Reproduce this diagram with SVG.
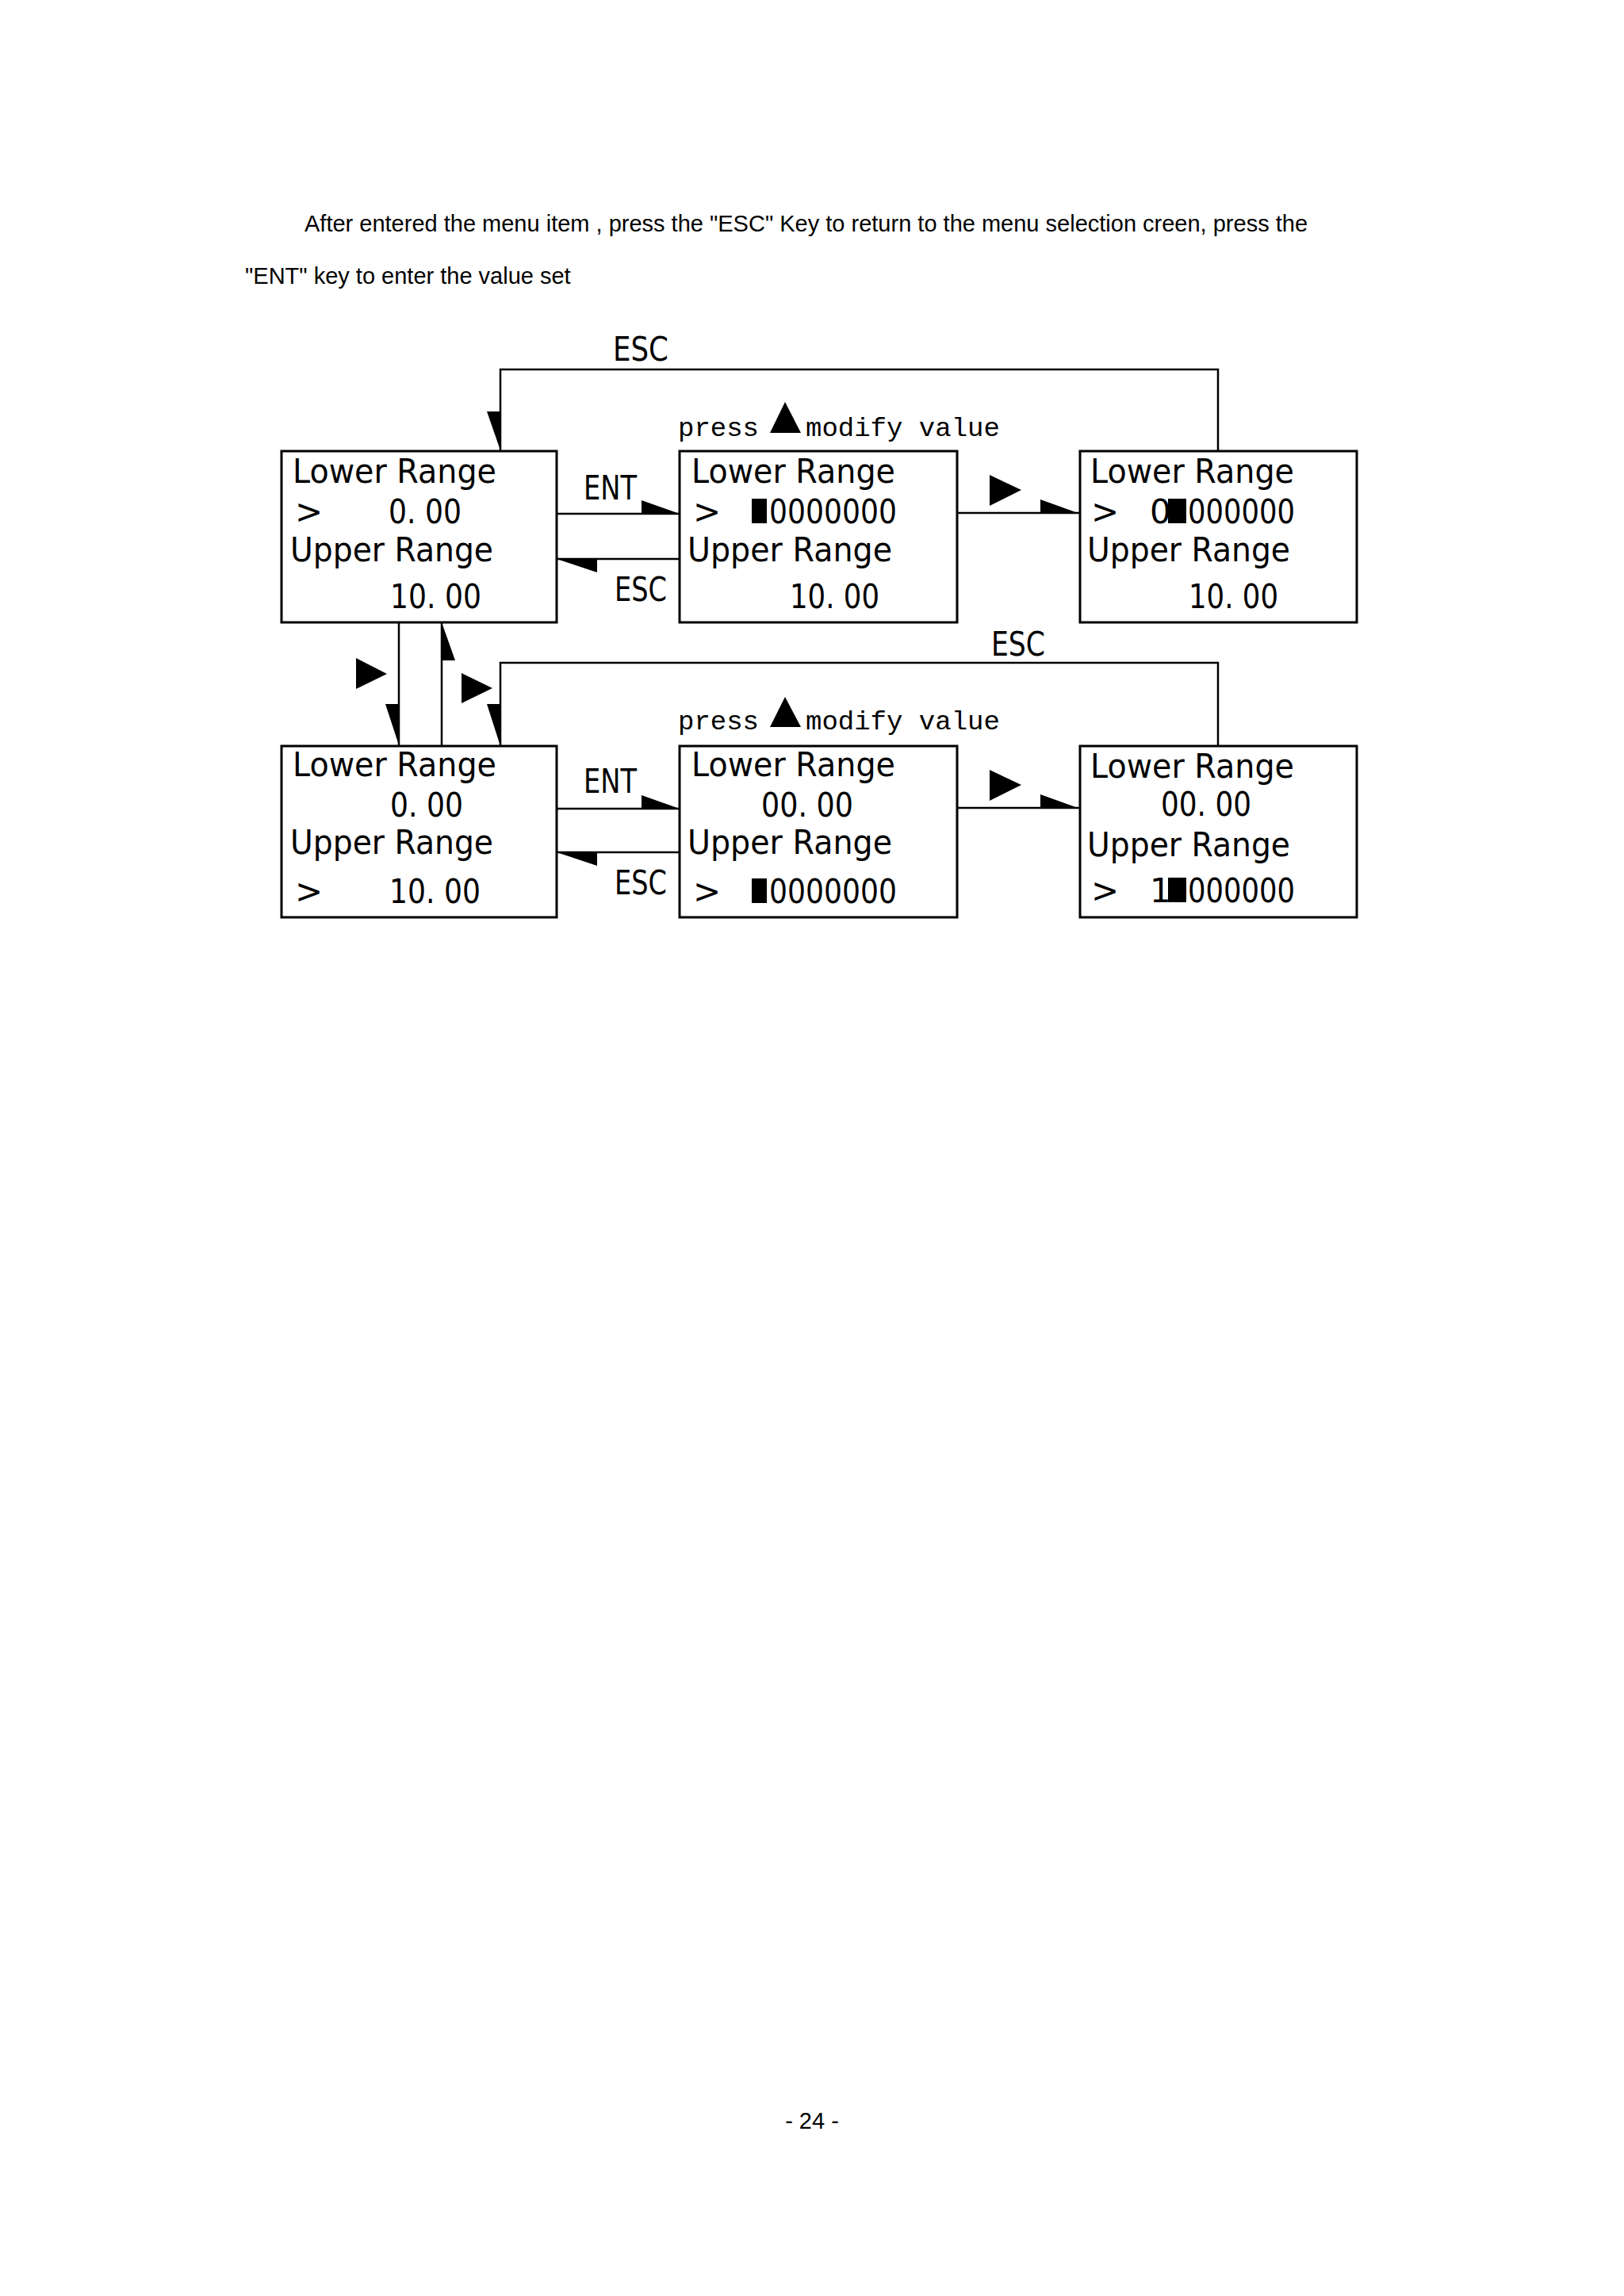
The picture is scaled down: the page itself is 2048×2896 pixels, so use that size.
<svg xmlns="http://www.w3.org/2000/svg" width="2048" height="2896" viewBox="0 0 2048 2896">
<style>
.b{fill:#fff;stroke:#000;stroke-width:3}
.l{fill:none;stroke:#000;stroke-width:2.5}
.t{font-family:"DejaVu Sans",sans-serif;font-size:42px;fill:#000}
.k{font-family:"DejaVu Sans Condensed","DejaVu Sans",sans-serif;font-size:42px;fill:#000}
.p{font-family:"Liberation Mono",monospace;font-size:34px;fill:#000}
.h{font-family:"Liberation Sans",Arial,sans-serif;font-size:29px;fill:#000}
</style>
<rect width="2048" height="2896" fill="#fff"/>
<text class="h" x="384" y="292">After entered the menu item , press the "ESC" Key to return to the menu selection creen, press the</text>
<text class="h" x="309" y="358">"ENT" key to enter the value set</text>
<text class="h" x="1024" y="2685" text-anchor="middle">- 24 -</text>
<g id="connectors">
<polyline class="l" points="631,569 631,466 1536,466 1536,569"/>
<polygon points="614,519 631,519 631,568"/>
<polyline class="l" points="631,941 631,836 1536,836 1536,941"/>
<polygon points="614,888 631,888 631,941"/>
<line class="l" x1="503" y1="785" x2="503" y2="941"/>
<polygon points="486,888 503,888 503,940"/>
<line class="l" x1="557" y1="785" x2="557" y2="941"/>
<polygon points="557,785 557,833 574,833"/>
<polygon points="449,830 488,850 449,869"/>
<polygon points="582,849 621,868 582,887"/>
<line class="l" x1="702" y1="648" x2="857" y2="648"/>
<polygon points="809,631 857,648 809,648"/>
<line class="l" x1="702" y1="705" x2="857" y2="705"/>
<polygon points="702,705 753,705 753,722"/>
<line class="l" x1="1207" y1="647" x2="1362" y2="647"/>
<polygon points="1312,630 1362,648 1312,648"/>
<polygon points="1248,599 1288,618 1248,638"/>
<line class="l" x1="702" y1="1020" x2="857" y2="1020"/>
<polygon points="809,1003 857,1020 809,1020"/>
<line class="l" x1="702" y1="1075" x2="857" y2="1075"/>
<polygon points="702,1075 753,1075 753,1092"/>
<line class="l" x1="1207" y1="1019" x2="1362" y2="1019"/>
<polygon points="1312,1002 1362,1020 1312,1020"/>
<polygon points="1248,971 1288,990 1248,1010"/>
<polygon points="971,546 990,507 1010,546"/>
<polygon points="971,917 990,879 1010,917"/>
</g>
<g id="labels">
<text class="k" x="773" y="455" textLength="70" lengthAdjust="spacingAndGlyphs">ESC</text>
<text class="k" x="736" y="630" textLength="67" lengthAdjust="spacingAndGlyphs">ENT</text>
<text class="k" x="775" y="758" textLength="66" lengthAdjust="spacingAndGlyphs">ESC</text>
<text class="k" x="1250" y="827" textLength="68" lengthAdjust="spacingAndGlyphs">ESC</text>
<text class="k" x="736" y="1000" textLength="67" lengthAdjust="spacingAndGlyphs">ENT</text>
<text class="k" x="775" y="1128" textLength="66" lengthAdjust="spacingAndGlyphs">ESC</text>
<text class="p" x="855" y="550">press</text>
<text class="p" x="1016" y="550">modify value</text>
<text class="p" x="855" y="920">press</text>
<text class="p" x="1016" y="920">modify value</text>
</g>
<g id="box1">
<rect class="b" x="355" y="569" width="347" height="216"/>
<text class="t" x="369" y="609" textLength="257" lengthAdjust="spacingAndGlyphs">Lower Range</text>
<text class="t" x="372" y="660">&gt;</text>
<text class="t" x="490" y="660" textLength="92" lengthAdjust="spacingAndGlyphs">0. 00</text>
<text class="t" x="366" y="708" textLength="256" lengthAdjust="spacingAndGlyphs">Upper Range</text>
<text class="t" x="492" y="767" textLength="115" lengthAdjust="spacingAndGlyphs">10. 00</text>
</g>
<g id="box2">
<rect class="b" x="857" y="569" width="350" height="216"/>
<text class="t" x="872" y="609" textLength="257" lengthAdjust="spacingAndGlyphs">Lower Range</text>
<text class="t" x="874" y="660">&gt;</text>
<rect x="948" y="629" width="19" height="31"/>
<text class="t" x="970" y="660" textLength="161" lengthAdjust="spacingAndGlyphs">0000000</text>
<text class="t" x="867" y="708" textLength="258" lengthAdjust="spacingAndGlyphs">Upper Range</text>
<text class="t" x="996" y="767" textLength="113" lengthAdjust="spacingAndGlyphs">10. 00</text>
</g>
<g id="box3">
<rect class="b" x="1362" y="569" width="349" height="216"/>
<text class="t" x="1375" y="609" textLength="257" lengthAdjust="spacingAndGlyphs">Lower Range</text>
<text class="t" x="1376" y="660">&gt;</text>
<text class="t" x="1450" y="660">0</text>
<rect x="1473" y="629" width="23" height="31"/>
<text class="t" x="1498" y="660" textLength="135" lengthAdjust="spacingAndGlyphs">000000</text>
<text class="t" x="1371" y="708" textLength="256" lengthAdjust="spacingAndGlyphs">Upper Range</text>
<text class="t" x="1499" y="767" textLength="113" lengthAdjust="spacingAndGlyphs">10. 00</text>
</g>
<g id="box4">
<rect class="b" x="355" y="941" width="347" height="216"/>
<text class="t" x="369" y="979" textLength="257" lengthAdjust="spacingAndGlyphs">Lower Range</text>
<text class="t" x="492" y="1030" textLength="92" lengthAdjust="spacingAndGlyphs">0. 00</text>
<text class="t" x="366" y="1077" textLength="256" lengthAdjust="spacingAndGlyphs">Upper Range</text>
<text class="t" x="372" y="1139">&gt;</text>
<text class="t" x="491" y="1139" textLength="115" lengthAdjust="spacingAndGlyphs">10. 00</text>
</g>
<g id="box5">
<rect class="b" x="857" y="941" width="350" height="216"/>
<text class="t" x="872" y="979" textLength="257" lengthAdjust="spacingAndGlyphs">Lower Range</text>
<text class="t" x="960" y="1030" textLength="116" lengthAdjust="spacingAndGlyphs">00. 00</text>
<text class="t" x="867" y="1077" textLength="258" lengthAdjust="spacingAndGlyphs">Upper Range</text>
<text class="t" x="874" y="1139">&gt;</text>
<rect x="948" y="1108" width="19" height="31"/>
<text class="t" x="970" y="1139" textLength="161" lengthAdjust="spacingAndGlyphs">0000000</text>
</g>
<g id="box6">
<rect class="b" x="1362" y="941" width="349" height="216"/>
<text class="t" x="1375" y="981" textLength="257" lengthAdjust="spacingAndGlyphs">Lower Range</text>
<text class="t" x="1464" y="1029" textLength="114" lengthAdjust="spacingAndGlyphs">00. 00</text>
<text class="t" x="1371" y="1080" textLength="256" lengthAdjust="spacingAndGlyphs">Upper Range</text>
<text class="t" x="1376" y="1138">&gt;</text>
<text class="t" x="1450" y="1138">1</text>
<rect x="1473" y="1107" width="23" height="31"/>
<text class="t" x="1498" y="1138" textLength="135" lengthAdjust="spacingAndGlyphs">000000</text>
</g>
</svg>
